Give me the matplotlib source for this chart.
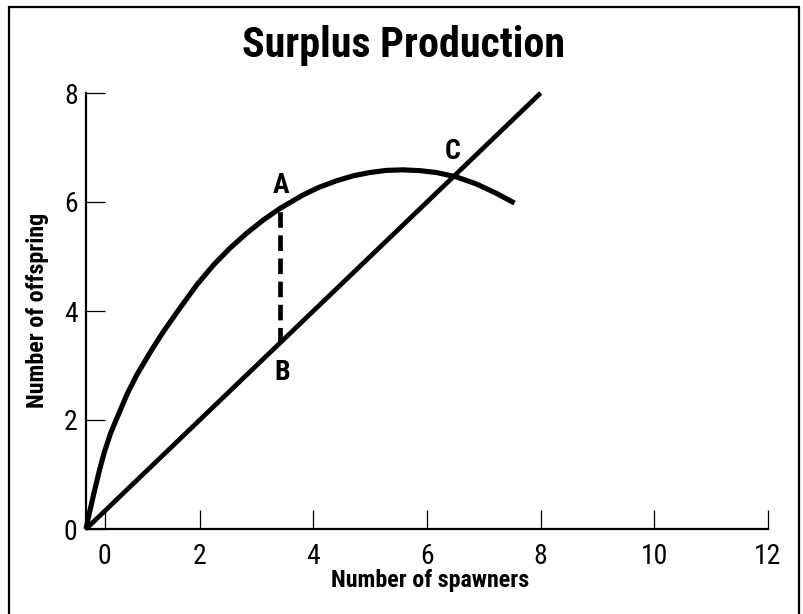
import matplotlib
matplotlib.use("Agg")
import matplotlib.pyplot as plt
from matplotlib.patches import Rectangle
from matplotlib import font_manager

# Data
line_x = [0, 8]
line_y = [0, 8]
curve_x = [0, 0.05, 0.14, 0.23, 0.32, 0.43, 0.55, 0.73, 0.90, 1.14, 1.36, 1.65, 1.95,
           2.24, 2.53, 2.83, 3.12, 3.41, 3.82, 4.10, 4.41, 4.70, 4.99, 5.28, 5.58,
           5.88, 6.17, 6.52, 6.87, 7.22, 7.54]
curve_y = [0, 0.25, 0.66, 1.05, 1.40, 1.75, 2.05, 2.49, 2.84, 3.26, 3.62, 4.05, 4.48,
           4.84, 5.15, 5.43, 5.67, 5.88, 6.13, 6.27, 6.39, 6.48, 6.54, 6.58, 6.59,
           6.575, 6.54, 6.46, 6.33, 6.16, 5.98]
ab_x = 3.41
ab_y = [3.41, 5.88]
point_labels = ["A", "B", "C"]
point_pos = [(3.43, 6.31), (3.45, 2.88), (6.45, 6.92)]
xtick_pos = [0.33, 2, 4, 6, 8, 10, 12]
xtick_labels = ["0", "2", "4", "6", "8", "10", "12"]
ytick_vals = [0, 2, 4, 6, 8]
title_text = "Surplus Production"
xlabel_text = "Number of spawners"
ylabel_text = "Number of offspring"

available = {f.name for f in font_manager.fontManager.ttflist}
candidates = ["Liberation Sans Narrow", "DejaVu Sans Condensed", "Roboto Condensed",
              "Open Sans Condensed", "Arial Narrow", "Nimbus Sans Narrow",
              "Liberation Sans", "DejaVu Sans"]
chosen = next(c for c in candidates if c in available)
plt.rcParams["font.family"] = [chosen, "DejaVu Sans"]

fig = plt.figure(figsize=(8.04, 6.14), dpi=100)
ax = fig.add_axes([86/804, 1-529/614, (768-86)/804, (529-93)/614])

ax.plot(curve_x, curve_y, color="black", lw=3.7, solid_capstyle="butt",
        solid_joinstyle="round", clip_on=False)
ax.plot(line_x, line_y, color="black", lw=3.4, solid_capstyle="butt", clip_on=False)
ax.plot([ab_x, ab_x], ab_y, color="black", lw=3.4, dashes=(3.3, 1.6), clip_on=False)

for lab, (px, py) in zip(point_labels, point_pos):
    ax.text(px, py, lab, fontsize=20, fontweight="bold", ha="center", va="center")

ax.set_xlim(0, 12)
ax.set_ylim(0, 8)
ax.set_xticks(xtick_pos)
ax.set_xticklabels(xtick_labels)
ax.set_yticks(ytick_vals)
ax.set_yticklabels([str(v) for v in ytick_vals])

for s in ["top", "right"]:
    ax.spines[s].set_visible(False)
ax.spines["left"].set_linewidth(1.6)
ax.spines["bottom"].set_linewidth(1.6)
ax.tick_params(axis="both", direction="in", length=14, width=0.9, labelsize=20)
ax.tick_params(axis="x", pad=10)
ax.tick_params(axis="y", pad=6)

xl = fig.text(430/804, 1-581/614, xlabel_text, fontsize=15, fontweight="bold",
              ha="center", va="center")
yl = fig.text(38/804, 1-310/614, ylabel_text, fontsize=15, fontweight="bold",
              ha="center", va="center", rotation=90)
tt = fig.text(404/804, 1-46/614, title_text, fontsize=30, fontweight="bold",
              ha="center", va="center")

# fit text sizes to the widths seen in the reference
fig.canvas.draw()
r = fig.canvas.get_renderer()
for t, target, horiz in [(tt, 323, True), (xl, 202, True), (yl, 208, False)]:
    bb = t.get_window_extent(r)
    cur = bb.width if horiz else bb.height
    new = t.get_fontsize() * target / cur
    t.set_fontsize(min(new, t.get_fontsize() * 1.15))

fig.patches.append(Rectangle((9/804, -0.02), (799-9)/804, 1-7/614+0.02,
                             transform=fig.transFigure, fill=False,
                             edgecolor="black", lw=1.6))

fig.savefig("out.png", dpi=100)
